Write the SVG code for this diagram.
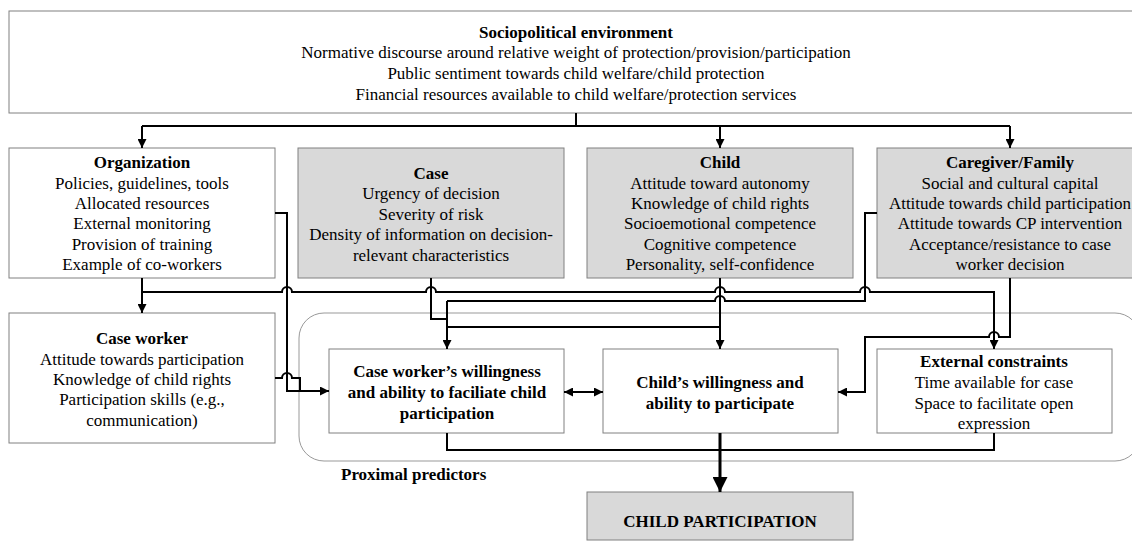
<svg xmlns="http://www.w3.org/2000/svg" width="1132" height="543" viewBox="0 0 1132 543">
<style>
.box{fill:#fff;stroke:#808080;stroke-width:1}
.gbox{fill:#d9d9d9;stroke:#808080;stroke-width:1}
.t{font-family:"Liberation Serif","Times New Roman",serif;font-size:17px;text-anchor:middle;fill:#000}
.b{font-weight:bold}
.c{fill:none;stroke:#000;stroke-width:2}
</style>
<defs>
<marker id="ah" viewBox="0 0 10 10" refX="10" refY="5" markerWidth="9" markerHeight="9" markerUnits="userSpaceOnUse" orient="auto-start-reverse">
<path d="M0,0 L10,5 L0,10 z" fill="#000"/>
</marker>
<marker id="big" viewBox="0 0 10 10" refX="10" refY="5" markerWidth="15" markerHeight="15" markerUnits="userSpaceOnUse" orient="auto">
<path d="M0,0 L10,5 L0,10 z" fill="#000"/>
</marker>
</defs>
<rect x="0" y="0" width="1132" height="543" fill="#fff"/>

<g id="proximal">
<rect x="299" y="313" width="841" height="148" rx="25" ry="25" fill="none" stroke="#999" stroke-width="1"/>
<text class="t b" x="341" y="480" style="text-anchor:start">Proximal predictors</text>
</g>

<g id="sociopolitical">
<rect class="box" x="9" y="11" width="1130" height="102"/>
<text class="t b" x="576" y="38">Sociopolitical environment</text>
<text class="t" x="576" y="58">Normative discourse around relative weight of protection/provision/participation</text>
<text class="t" x="576" y="79">Public sentiment towards child welfare/child protection</text>
<text class="t" x="576" y="100">Financial resources available to child welfare/protection services</text>
</g>

<g id="organization">
<rect class="box" x="9" y="148" width="266" height="130"/>
<text class="t b" x="142" y="168">Organization</text>
<text class="t" x="142" y="189">Policies, guidelines, tools</text>
<text class="t" x="142" y="209">Allocated resources</text>
<text class="t" x="142" y="229">External monitoring</text>
<text class="t" x="142" y="250">Provision of training</text>
<text class="t" x="142" y="270">Example of co-workers</text>
</g>

<g id="case">
<rect class="gbox" x="298" y="148" width="266" height="130"/>
<text class="t b" x="431" y="179">Case</text>
<text class="t" x="431" y="199">Urgency of decision</text>
<text class="t" x="431" y="220">Severity of risk</text>
<text class="t" x="431" y="240">Density of information on decision-</text>
<text class="t" x="431" y="261">relevant characteristics</text>
</g>

<g id="child">
<rect class="gbox" x="587" y="148" width="266" height="130"/>
<text class="t b" x="720" y="168">Child</text>
<text class="t" x="720" y="189">Attitude toward autonomy</text>
<text class="t" x="720" y="209">Knowledge of child rights</text>
<text class="t" x="720" y="229">Socioemotional competence</text>
<text class="t" x="720" y="250">Cognitive competence</text>
<text class="t" x="720" y="270">Personality, self-confidence</text>
</g>

<g id="caregiver">
<rect class="gbox" x="877" y="148" width="262" height="130"/>
<text class="t b" x="1010" y="168">Caregiver/Family</text>
<text class="t" x="1010" y="189">Social and cultural capital</text>
<text class="t" x="1010" y="209">Attitude towards child participation</text>
<text class="t" x="1010" y="229">Attitude towards CP intervention</text>
<text class="t" x="1010" y="250">Acceptance/resistance to case</text>
<text class="t" x="1010" y="270">worker decision</text>
</g>

<g id="caseworker">
<rect class="box" x="9" y="313" width="266" height="130"/>
<text class="t b" x="142" y="344">Case worker</text>
<text class="t" x="142" y="365">Attitude towards participation</text>
<text class="t" x="142" y="385">Knowledge of child rights</text>
<text class="t" x="142" y="405">Participation skills (e.g.,</text>
<text class="t" x="142" y="426">communication)</text>
</g>

<g id="cw-willingness">
<rect class="box" x="329" y="349" width="235" height="84"/>
<text class="t b" x="447" y="377">Case worker’s willingness</text>
<text class="t b" x="447" y="398">and ability to faciliate child</text>
<text class="t b" x="447" y="419">participation</text>
</g>

<g id="child-willingness">
<rect class="box" x="603" y="349" width="235" height="84"/>
<text class="t b" x="720" y="388">Child’s willingness and</text>
<text class="t b" x="720" y="409">ability to participate</text>
</g>

<g id="external">
<rect class="box" x="877" y="349" width="235" height="84"/>
<text class="t b" x="994" y="367">External constraints</text>
<text class="t" x="994" y="388">Time available for case</text>
<text class="t" x="994" y="409">Space to facilitate open</text>
<text class="t" x="994" y="429">expression</text>
</g>

<g id="child-participation">
<rect class="gbox" x="587" y="492" width="266" height="48"/>
<text class="t b" x="720" y="527">CHILD PARTICIPATION</text>
</g>

<g id="connectors">
<path class="c" d="M576,113 V126"/>
<path class="c" d="M142,126 H1010"/>
<path class="c" d="M142,126 V148" marker-end="url(#ah)"/>
<path class="c" d="M720,126 V148" marker-end="url(#ah)"/>
<path class="c" d="M1010,126 V148" marker-end="url(#ah)"/>

<path class="c" d="M142,278 V313" marker-end="url(#ah)"/>
<path class="c" d="M142,292 H282 A5,5 0 0 1 292,292 H426 A5,5 0 0 1 436,292 H715 A5,5 0 0 1 725,292 H860 A5,5 0 0 1 870,292 H994 V349" marker-end="url(#ah)"/>

<path class="c" d="M275,213 H287 V391 H329" marker-end="url(#ah)"/>
<path class="c" d="M275,378 H282 A5,5 0 0 1 292,378 H300 V391"/>

<path class="c" d="M431,278 V319 H447"/>
<path class="c" d="M447,301 V349" marker-end="url(#ah)"/>
<path class="c" d="M447,301 H715 A5,5 0 0 1 725,301 H865 V213 H877"/>

<path class="c" d="M720,278 V349" marker-end="url(#ah)"/>
<path class="c" d="M720,327 H447"/>

<path class="c" d="M1010,278 V337 H999 A5,5 0 0 0 989,337 H865 V392 H838" marker-end="url(#ah)"/>

<path class="c" d="M564,392 H603" marker-start="url(#ah)" marker-end="url(#ah)"/>

<path class="c" d="M447,433 V450 H994 V433"/>
<path d="M720,433 V492" fill="none" stroke="#000" stroke-width="3" marker-end="url(#big)"/>
</g>
</svg>
